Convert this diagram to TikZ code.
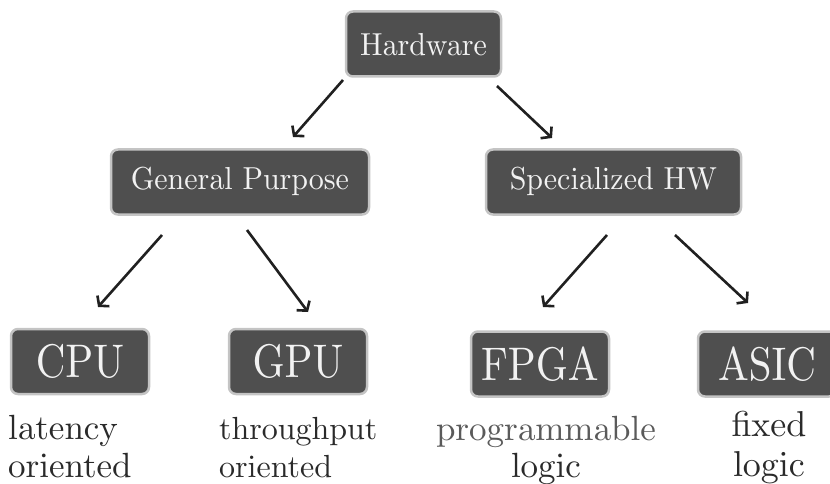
\documentclass[tikz,border=0pt]{standalone}
\usetikzlibrary{arrows.meta}
\definecolor{boxfill}{HTML}{4F4F4F}
\definecolor{boxedge}{HTML}{C4C4C4}
\definecolor{boxtext}{HTML}{F2F2F2}
\definecolor{arrowink}{HTML}{202020}
\definecolor{noteink}{HTML}{2A2A2A}
\definecolor{noteinklight}{HTML}{5A5A5A}
% Computer Modern at its 10pt design size, scaled up
\font\hwmidfont=cmr10 at 30pt
\font\hwbigfont=cmr10 at 41pt
\font\hwnotefont=cmr10 at 35pt
\font\hwnotefontsmall=cmr10 at 32pt
\font\hwnotefontfixed=cmr10 at 36pt
\newcommand\hwnotelatency{\hwnotefont\baselineskip 38pt\relax}
\newcommand\hwnotethroughput{\hwnotefontsmall\baselineskip 38pt\relax}
\newcommand\hwnoteprog{\hwnotefont\baselineskip 37pt\relax}
\newcommand\hwnotefixed{\hwnotefontfixed\baselineskip 40pt\relax}
\newcommand\hwmidword[1]{\scalebox{1}[1.06]{#1}}
\newcommand\hwbigword[1]{\scalebox{1}[1.15]{#1}}
\begin{document}
\begin{tikzpicture}[x=1pt,y=-1pt,
  hwbox/.style={fill=boxfill, draw=boxedge, line width=2.5pt, rounded corners=7pt,
    text=boxtext, inner sep=0pt, minimum height=65pt},
  midfont/.style={font=\hwmidfont},
  bigfont/.style={font=\hwbigfont},
  note/.style={text=noteink, inner sep=0pt},
  arr/.style={draw=arrowink, line width=2.6pt, -{Straight Barb[length=6.5pt,width=16pt]}}
]
\useasboundingbox (0,0) rectangle (830,484);
\clip (0,0) rectangle (830,484);

% top level
\node[hwbox, midfont, minimum width=155pt] (hw) at (423.5,44) {\hwmidword{Hardware}};

% second level
\node[hwbox, midfont, minimum width=258pt] (gp) at (240,182) {\hwmidword{General Purpose}};
\node[hwbox, midfont, minimum width=255pt] (sp) at (613.5,182) {\hwmidword{Specialized HW}};

% third level
\node[hwbox, bigfont, minimum width=138pt] (cpu)  at (80,361.5)  {\hwbigword{CPU}};
\node[hwbox, bigfont, minimum width=138pt] (gpu)  at (298,361.5) {\hwbigword{GPU}};
\node[hwbox, bigfont, minimum width=138pt] (fpga) at (540,364)   {\hwbigword{FPGA}};
\node[hwbox, bigfont, minimum width=138pt] (asic) at (767,364)   {\hwbigword{ASIC}};

% descriptions under the boxes
\node[note, anchor=north west, align=left, font=\hwnotelatency]
  (cpun) at (8,415) {latency\\oriented};
\node[note, anchor=north west, align=left, font=\hwnotethroughput]
  (gpun) at (219,417) {throughput\\oriented};
\node[note, anchor=north, align=center, font=\hwnoteprog]
  (fpgan) at (546,415.5) {\textcolor{noteinklight}{programmable}\\logic};
\node[note, anchor=north, align=center, font=\hwnotefixed]
  (asicn) at (769,411) {fixed\\logic};

% connectors
\draw[arr] ([shift={(-80.5,36)}]hw.center) -- ([shift={(53,-45)}]gp.center);
\draw[arr] ([shift={(73.5,42)}]hw.center) -- ([shift={(-61.5,-44)}]sp.center);
\draw[arr] ([shift={(-78,53)}]gp.center) -- ([shift={(18,-54.5)}]cpu.center);
\draw[arr] ([shift={(7,48)}]gp.center) -- ([shift={(10,-49.5)}]gpu.center);
\draw[arr] ([shift={(-6.5,53)}]sp.center) -- ([shift={(3,-57)}]fpga.center);
\draw[arr] ([shift={(61.5,53)}]sp.center) -- ([shift={(-19,-61)}]asic.center);
\end{tikzpicture}
\end{document}
